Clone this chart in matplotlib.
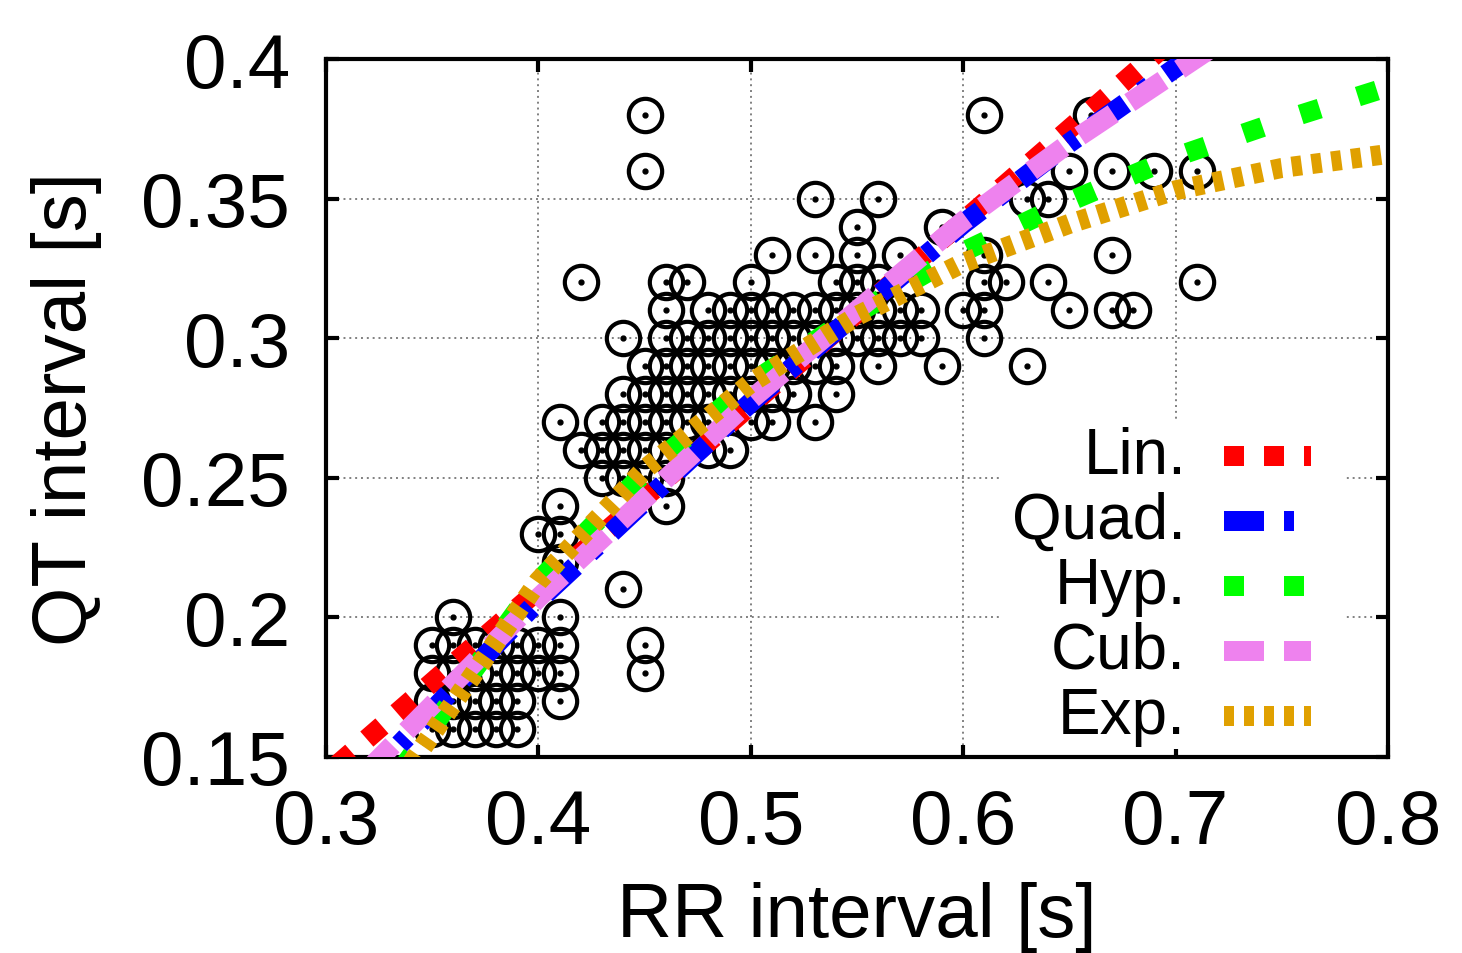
import numpy as np
import matplotlib
matplotlib.use("Agg")
import matplotlib.pyplot as plt
from matplotlib.patches import Rectangle

plt.rcParams['font.family'] = ['Liberation Sans', 'DejaVu Sans']

# observed beats: QT level -> RR values seen at that level
qt_levels = [0.38, 0.36, 0.35, 0.34, 0.33, 0.32, 0.31, 0.30, 0.29, 0.28,
             0.27, 0.26, 0.25, 0.24, 0.23, 0.22, 0.21, 0.20, 0.19, 0.18,
             0.17, 0.16]
rr_rows = [
    [0.45, 0.61, 0.66],
    [0.45, 0.65, 0.67, 0.69, 0.71],
    [0.53, 0.56, 0.63, 0.64],
    [0.55, 0.59],
    [0.51, 0.53, 0.55, 0.57, 0.61, 0.67],
    [0.42, 0.46, 0.47, 0.50, 0.54, 0.55, 0.56, 0.61, 0.62, 0.64, 0.71],
    [0.46, 0.48, 0.49, 0.50, 0.51, 0.52, 0.53, 0.54, 0.55, 0.56, 0.57, 0.58,
     0.60, 0.61, 0.65, 0.67, 0.68],
    [0.44, 0.46, 0.47, 0.48, 0.49, 0.50, 0.51, 0.52, 0.53, 0.54, 0.55, 0.56,
     0.57, 0.58, 0.61],
    [0.45, 0.46, 0.47, 0.48, 0.49, 0.50, 0.51, 0.52, 0.53, 0.54, 0.56, 0.59, 0.63],
    [0.44, 0.45, 0.46, 0.47, 0.48, 0.49, 0.50, 0.51, 0.52, 0.54],
    [0.41, 0.43, 0.44, 0.45, 0.46, 0.47, 0.48, 0.50, 0.51, 0.53],
    [0.42, 0.43, 0.44, 0.45, 0.46, 0.48, 0.49],
    [0.43, 0.44, 0.45, 0.46],
    [0.41, 0.46],
    [0.40, 0.41],
    [0.41],
    [0.44],
    [0.36, 0.41],
    [0.35, 0.36, 0.37, 0.38, 0.39, 0.40, 0.41, 0.45],
    [0.35, 0.36, 0.37, 0.38, 0.39, 0.40, 0.41, 0.45],
    [0.35, 0.36, 0.37, 0.38, 0.39, 0.41],
    [0.35, 0.36, 0.37, 0.38, 0.39],
]

# fitted curves
lin_rr = [0.305, 0.50, 0.70]
lin_qt = [0.147, 0.276, 0.408]
quad_rr = [0.315, 0.40, 0.50, 0.60, 0.65, 0.715]
quad_qt = [0.139, 0.206, 0.277, 0.341, 0.370, 0.405]
hyp_rr = [0.335, 0.40, 0.45, 0.50, 0.55, 0.60, 0.65, 0.70, 0.75, 0.80]
hyp_qt = [0.145, 0.213, 0.252, 0.284, 0.309, 0.331, 0.349, 0.365, 0.378, 0.390]
cub_rr = [0.318, 0.40, 0.50, 0.60, 0.65, 0.715]
cub_qt = [0.144, 0.207, 0.278, 0.342, 0.370, 0.403]
exp_rr = [0.335, 0.40, 0.45, 0.50, 0.55, 0.60, 0.65, 0.70, 0.75, 0.80]
exp_qt = [0.142, 0.213, 0.253, 0.284, 0.308, 0.327, 0.341, 0.353, 0.361, 0.366]

labels = ["Lin.", "Quad.", "Hyp.", "Cub.", "Exp."]
colors = ["#ff0000", "#0000ff", "#00ff00", "#ee82ee", "#e0a000"]
dashes = [(1, 1), (2, 1, 0.5, 1), (1, 2), (2, 1), (0.5, 0.5)]

rr = np.concatenate([np.array(r) for r in rr_rows])
qt = np.concatenate([np.full(len(r), q) for q, r in zip(qt_levels, rr_rows)])

fig = plt.figure(figsize=(14.62, 9.54), dpi=100)
ax = fig.add_axes([0.223, 0.2055, 0.7264, 0.7315])

ax.plot(rr, qt, linestyle='none', marker='o', markersize=24,
        markerfacecolor='none', markeredgecolor='black', markeredgewidth=3.0, zorder=3)
ax.plot(rr, qt, linestyle='none', marker='o', markersize=3.5,
        color='black', zorder=3)

lw = 14.4
curves = [(lin_rr, lin_qt), (quad_rr, quad_qt), (hyp_rr, hyp_qt),
          (cub_rr, cub_qt), (exp_rr, exp_qt)]
for (x, y), c, d in zip(curves, colors, dashes):
    ax.plot(x, y, color=c, linewidth=lw, dashes=d, dash_capstyle='butt', zorder=4)

ax.set_xlim(0.3, 0.8)
ax.set_ylim(0.15, 0.4)
ax.set_xticks([0.3, 0.4, 0.5, 0.6, 0.7, 0.8])
ax.set_xticklabels(["0.3", "0.4", "0.5", "0.6", "0.7", "0.8"])
ax.set_yticks([0.15, 0.2, 0.25, 0.3, 0.35, 0.4])
ax.set_yticklabels(["0.15", "0.2", "0.25", "0.3", "0.35", "0.4"])
ax.grid(True, color='#808080', linestyle=(0, (1, 2)), linewidth=1.4, zorder=0)
ax.set_axisbelow(True)
ax.tick_params(direction='in', length=9, width=3, top=True, right=True,
               labelsize=55)
ax.tick_params(axis='x', pad=22)
ax.tick_params(axis='y', pad=26)
for s in ax.spines.values():
    s.set_linewidth(3)
ax.set_xlabel("RR interval [s]", fontsize=55, labelpad=16)
ax.set_ylabel("QT interval [s]", fontsize=55, labelpad=28)

# key box (opaque, like the original)
ax.add_patch(Rectangle((0.635, 0.012), 0.325, 0.472, transform=ax.transAxes,
                       facecolor='white', edgecolor='none', zorder=2))
row_y = [0.431, 0.338, 0.245, 0.152, 0.059]
for lab, c, d, yy in zip(labels, colors, dashes, row_y):
    ax.text(0.810, yy, lab, transform=ax.transAxes, ha='right', va='center',
            fontsize=46, zorder=5)
    ax.plot([0.8456, 0.9275], [yy, yy], transform=ax.transAxes, color=c,
            linewidth=lw, dashes=d, dash_capstyle='butt', zorder=5)

fig.savefig("out.png", dpi=100)
